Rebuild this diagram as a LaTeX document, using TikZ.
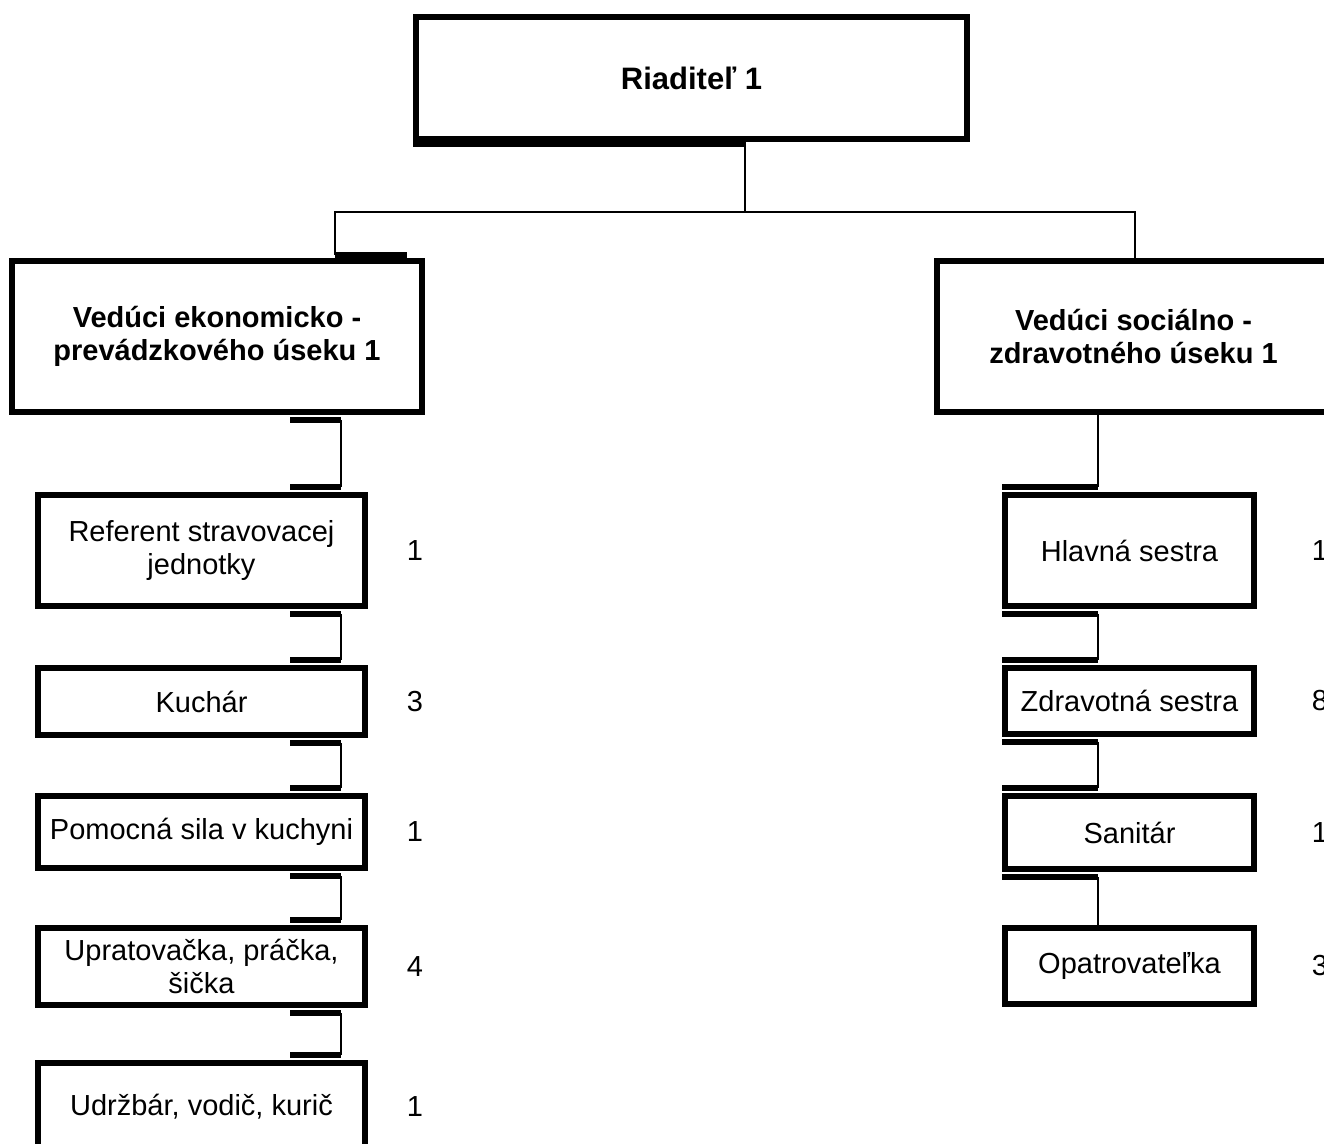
\documentclass[tikz,border=0pt]{standalone}
\usepackage{fontspec}
\setmainfont{Liberation Sans}
\usetikzlibrary{calc}

\tikzset{
  box/.style={draw,rectangle,line width=3pt,inner sep=0pt,align=center,
    font=\fontsize{14.5}{16.5}\selectfont},
  headbox/.style={box,font=\fontsize{14.5}{16.5}\selectfont\bfseries},
  link/.style={line width=1pt,line join=miter},
  stub/.style={line width=2.9pt},
  numlabel/.style={font=\fontsize{14.5}{16.5}\selectfont}
}

\begin{document}
\begin{tikzpicture}[x=0.5pt,y=-0.5pt]
  \useasboundingbox (0,0) rectangle (1324,1144);
  \clip (0,0) rectangle (1324,1144);

  % top of the chart
  \node[headbox,minimum width=275.5pt,minimum height=61pt,
    font=\fontsize{15.5}{18}\selectfont\bfseries] (dir) at (691.5,78) {Riaditeľ 1};

  % the two sections
  \node[headbox,minimum width=205pt,minimum height=75.5pt] (eko) at (217,336.5)
    {Vedúci ekonomicko -\\prevádzkového úseku 1};
  \node[headbox,minimum width=196.5pt,minimum height=75.5pt] (soc) at (1133.5,336.5)
    {Vedúci sociálno -\\zdravotného úseku 1};

  % left column
  \node[box,minimum width=163.5pt,minimum height=55.5pt] (ref) at (201.5,550.5) {Referent stravovacej\\jednotky};
  \node[box,minimum width=163.5pt,minimum height=33.5pt] (kuch) at (201.5,701.5) {Kuchár};
  \node[box,minimum width=163.5pt,minimum height=36pt] (pom) at (201.5,832) {Pomocná sila v kuchyni};
  \node[box,minimum width=163.5pt,minimum height=38.5pt] (upr) at (201.5,966.5) {Upratovačka, práčka,\\šička};
  \node[box,minimum width=163.5pt,minimum height=43.5pt] (udr) at (201.5,1106.5) {Udržbár, vodič, kurič};

  % right column
  \node[box,minimum width=124.5pt,minimum height=55.5pt] (hl) at (1129.5,550.5) {Hlavná sestra};
  \node[box,minimum width=124.5pt,minimum height=33pt] (zdr) at (1129.5,701) {Zdravotná sestra};
  \node[box,minimum width=124.5pt,minimum height=36.5pt] (san) at (1129.5,832.5) {Sanitár};
  \node[box,minimum width=124.5pt,minimum height=38pt] (opa) at (1129.5,966) {Opatrovateľka};

  % head counts
  \coordinate (lnum) at (415,0);
  \coordinate (rnum) at (1320,0);
  \foreach \nd/\num in {ref/1,kuch/3,pom/1,upr/4,udr/1}
    \node[numlabel] (n-\nd) at (lnum |- \nd) {\num};
  \foreach \nd/\num in {hl/1,zdr/8,san/1,opa/3}
    \node[numlabel] (n-\nd) at (rnum |- \nd) {\num};

  % director to both sections
  \coordinate (fork) at (745,212);
  \coordinate (lbr) at (335,0);
  \coordinate (lbrend) at (407,0);
  \coordinate (rbr) at (1135,0);
  \draw[stub,line width=3pt] ($(dir.south west)+(0,2)$) -- ($(dir.south -| fork)+(0,2)$);
  \draw[link] (dir.south -| fork) -- (fork);
  \draw[link] ($(eko.north -| lbr)-(0,3)$) -- (lbr |- fork) -- (rbr |- fork) -- (soc.north -| rbr);
  \draw[stub,line width=3pt] ($(eko.north -| lbr)-(0,3)$) -- ($(eko.north -| lbrend)-(0,3)$);

  % left column connectors
  \coordinate (lend) at (290,0);
  \coordinate (lspine) at (341,0);
  \foreach \a/\b in {eko/ref,ref/kuch,kuch/pom,pom/upr,upr/udr} {
    \draw[stub] ($(\a.south -| lend)+(0,5)$) -- ($(\a.south -| lspine)+(0,5)$);
    \draw[stub] ($(\b.north -| lend)-(0,5)$) -- ($(\b.north -| lspine)-(0,5)$);
    \draw[link] ($(\a.south -| lspine)+(0,5)$) -- ($(\b.north -| lspine)-(0,5)$);
  }

  % right column connectors
  \coordinate (rend) at (1002,0);
  \coordinate (rspine) at (1098,0);
  \draw[link] (soc.south -| rspine) -- ($(hl.north -| rspine)-(0,5)$);
  \draw[stub] ($(hl.north -| rend)-(0,5)$) -- ($(hl.north -| rspine)-(0,5)$);
  \foreach \a/\b in {hl/zdr,zdr/san} {
    \draw[stub] ($(\a.south -| rend)+(0,5)$) -- ($(\a.south -| rspine)+(0,5)$);
    \draw[stub] ($(\b.north -| rend)-(0,5)$) -- ($(\b.north -| rspine)-(0,5)$);
    \draw[link] ($(\a.south -| rspine)+(0,5)$) -- ($(\b.north -| rspine)-(0,5)$);
  }
  \draw[stub] ($(san.south -| rend)+(0,5)$) -- ($(san.south -| rspine)+(0,5)$);
  \draw[link] ($(san.south -| rspine)+(0,5)$) -- (opa.north -| rspine);
\end{tikzpicture}
\end{document}
